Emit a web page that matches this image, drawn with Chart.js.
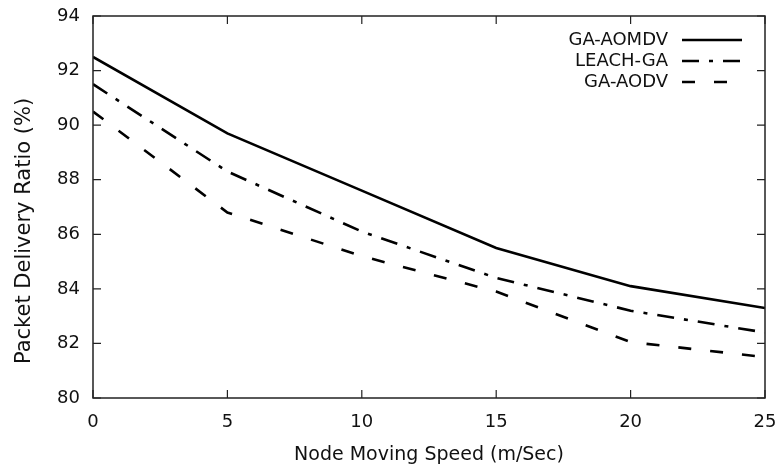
<!DOCTYPE html>
<html>
<head>
<meta charset="utf-8">
<script src="https://cdn.jsdelivr.net/npm/chart.js@4/dist/chart.umd.min.js"></script>
<style>
html,body{margin:0;padding:0;background:#fff;}
#wrap{width:779px;height:468px;}
</style>
</head>
<body>
<div id="wrap"><canvas id="c" width="779" height="468"></canvas></div>
<script>
const speeds = [0, 5, 10, 15, 20, 25];
const gaAomdv = [92.5, 89.7, 87.6, 85.5, 84.1, 83.3];
const leachGa = [91.5, 88.3, 86.1, 84.4, 83.2, 82.4];
const gaAodv  = [90.5, 86.8, 85.2, 83.9, 82.05, 81.5];
const seriesNames = ['GA-AOMDV', 'LEACH-GA', 'GA-AODV'];
const yTicks = [80, 82, 84, 86, 88, 90, 92, 94];
const xTicks = [0, 5, 10, 15, 20, 25];
const xTitle = 'Node Moving Speed (m/Sec)';
const yTitle = 'Packet Delivery Ratio (%)';

const FONT = 'DejaVu Sans';

const frameTicks = {
  id: 'frameTicks',
  afterDatasetsDraw(chart) {
    const ctx = chart.ctx, a = chart.chartArea;
    const xs = chart.scales.x, ys = chart.scales.y;
    ctx.save();
    ctx.strokeStyle = '#222';
    ctx.lineWidth = 1.5;
    ctx.strokeRect(a.left, a.top, a.right - a.left, a.bottom - a.top);
    ctx.lineWidth = 1.2;
    const L = 8;
    ctx.beginPath();
    xTicks.forEach(v => {
      const px = xs.getPixelForValue(v);
      ctx.moveTo(px, a.bottom); ctx.lineTo(px, a.bottom - L);
      ctx.moveTo(px, a.top); ctx.lineTo(px, a.top + L);
    });
    yTicks.forEach(v => {
      const py = ys.getPixelForValue(v);
      ctx.moveTo(a.left, py); ctx.lineTo(a.left + L, py);
      ctx.moveTo(a.right, py); ctx.lineTo(a.right - L, py);
    });
    ctx.stroke();
    // y title
    ctx.save();
    ctx.translate(25, 231);
    ctx.rotate(-Math.PI / 2);
    ctx.font = '21px ' + FONT;
    ctx.fillStyle = '#111';
    ctx.textAlign = 'center';
    ctx.textBaseline = 'middle';
    ctx.fillText(yTitle, 0, 0);
    ctx.restore();
    // legend
    ctx.font = '18px ' + FONT;
    ctx.fillStyle = '#111';
    ctx.textAlign = 'right';
    ctx.textBaseline = 'middle';
    const rows = [40, 61, 82];
    chart.data.datasets.forEach((ds, i) => {
      const y = rows[i];
      ctx.fillText(ds.label, 668, y);
      ctx.beginPath();
      ctx.setLineDash(ds.borderDash || []);
      ctx.lineWidth = ds.borderWidth;
      ctx.strokeStyle = '#000';
      ctx.moveTo(682, y); ctx.lineTo(742, y);
      ctx.stroke();
    });
    ctx.setLineDash([]);
    ctx.restore();
  }
};

new Chart(document.getElementById('c'), {
  type: 'line',
  data: {
    datasets: [
      { label: seriesNames[0], data: speeds.map((s, i) => ({x: s, y: gaAomdv[i]})),
        borderColor: '#000', borderWidth: 2.6, pointRadius: 0, tension: 0, fill: false },
      { label: seriesNames[1], data: speeds.map((s, i) => ({x: s, y: leachGa[i]})),
        borderColor: '#000', borderWidth: 2.6, borderDash: [17, 10, 4, 10], pointRadius: 0, tension: 0, fill: false },
      { label: seriesNames[2], data: speeds.map((s, i) => ({x: s, y: gaAodv[i]})),
        borderColor: '#000', borderWidth: 2.6, borderDash: [13, 19], pointRadius: 0, tension: 0, fill: false }
    ]
  },
  options: {
    responsive: false,
    animation: false,
    layout: { padding: { top: 16, right: 14, left: 0, bottom: 0 } },
    plugins: { legend: { display: false }, tooltip: { enabled: false } },
    scales: {
      x: {
        type: 'linear', min: 0, max: 25,
        afterBuildTicks: s => { s.ticks = xTicks.map(v => ({value: v})); },
        afterFit: s => { s.height = 70; s.paddingLeft = 0; s.paddingRight = 0; },
        grid: { display: false, drawTicks: false },
        border: { display: false },
        ticks: { color: '#111', font: { family: FONT, size: 18 }, padding: 14, maxRotation: 0 },
        title: { display: true, text: xTitle, color: '#111',
                 font: { family: FONT, size: 19 }, padding: { top: 0, bottom: 2 } }
      },
      y: {
        type: 'linear', min: 80, max: 94,
        afterBuildTicks: s => { s.ticks = yTicks.map(v => ({value: v})); },
        afterFit: s => { s.width = 93; s.paddingTop = 0; s.paddingBottom = 0; },
        grid: { display: false, drawTicks: false },
        border: { display: false },
        ticks: { color: '#111', font: { family: FONT, size: 18 }, padding: 13 },
        title: { display: false }
      }
    }
  },
  plugins: [frameTicks]
});
</script>
</body>
</html>
